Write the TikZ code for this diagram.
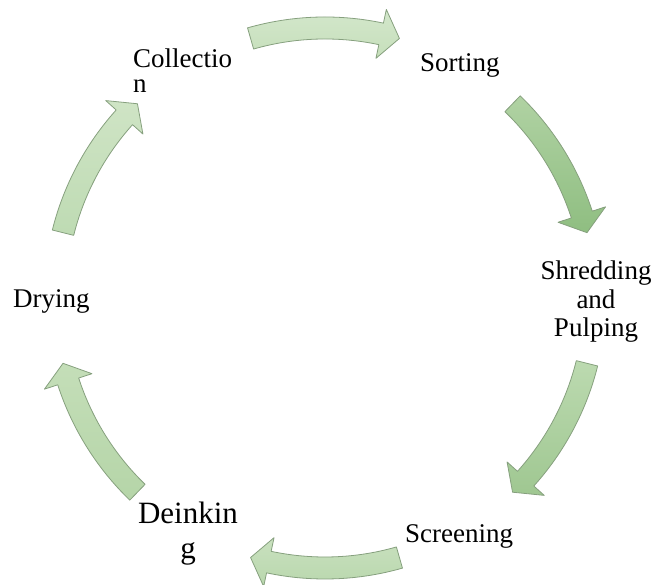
\documentclass[tikz,border=0pt]{standalone}
\usepackage{fontspec}
\setmainfont{Liberation Serif}
\definecolor{arrowline}{HTML}{86A07E}
% curved block arrow on the cycle: #1 middle angle, #2 top colour, #3 bottom colour (hex)
\newcommand\cycarrow[3]{%
  \definecolor{arrtop}{HTML}{#2}%
  \definecolor{arrbot}{HTML}{#3}%
  \pgfmathsetmacro\ta{#1+16}%
  \pgfmathsetmacro\ha{#1-12}%
  \pgfmathsetmacro\pa{#1-16}%
  \draw[cyc, top color=arrtop, bottom color=arrbot, shift={(325pt,287pt)}]
    (\ta:281pt) arc[start angle=\ta, end angle=\ha, radius=281pt]
    -- (\ha:295pt) -- (\pa:270pt) -- (\ha:245pt) -- (\ha:259pt)
    arc[start angle=\ha, end angle=\ta, radius=259pt] -- cycle;}
\begin{document}
\begin{tikzpicture}[x=1pt,y=1pt,
  lbl/.style={font=\fontsize{27}{27}\selectfont, inner sep=0pt},
  cyc/.style={draw=arrowline, line width=0.8pt, line join=round}]
\useasboundingbox (0,0) rectangle (657,585);

% arrows between the stages
\cycarrow{90}{D3E7CB}{C6DFBB}
\cycarrow{30}{B0D2A3}{8FBE81}
\cycarrow{-30}{BCDAB0}{9FC791}
\cycarrow{-90}{C9E1BF}{B9D7AD}
\cycarrow{-150}{C4DEB8}{B5D5A8}
\cycarrow{150}{CFE4C5}{BEDBB3}

% stage labels (for multi-line labels the base anchor sits on the last line)
\node[lbl, anchor=base west, align=left, font=\fontsize{27}{25.5}\selectfont] (collection) at (133,492) {Collectio\\n};
\node[lbl, anchor=base west] (sorting) at (420,513) {Sorting};
\node[lbl, anchor=base, align=center, font=\fontsize{27}{28.5}\selectfont] (shredding) at (596,248) {Shredding\\and\\Pulping};
\node[lbl, anchor=base west] (screening) at (405,42) {Screening};
\node[lbl, anchor=base, align=center, font=\fontsize{31}{35}\selectfont] (deinking) at (188,26) {Deinkin\\g};
\node[lbl, anchor=base west] (drying) at (13,277) {Drying};
\end{tikzpicture}
\end{document}
